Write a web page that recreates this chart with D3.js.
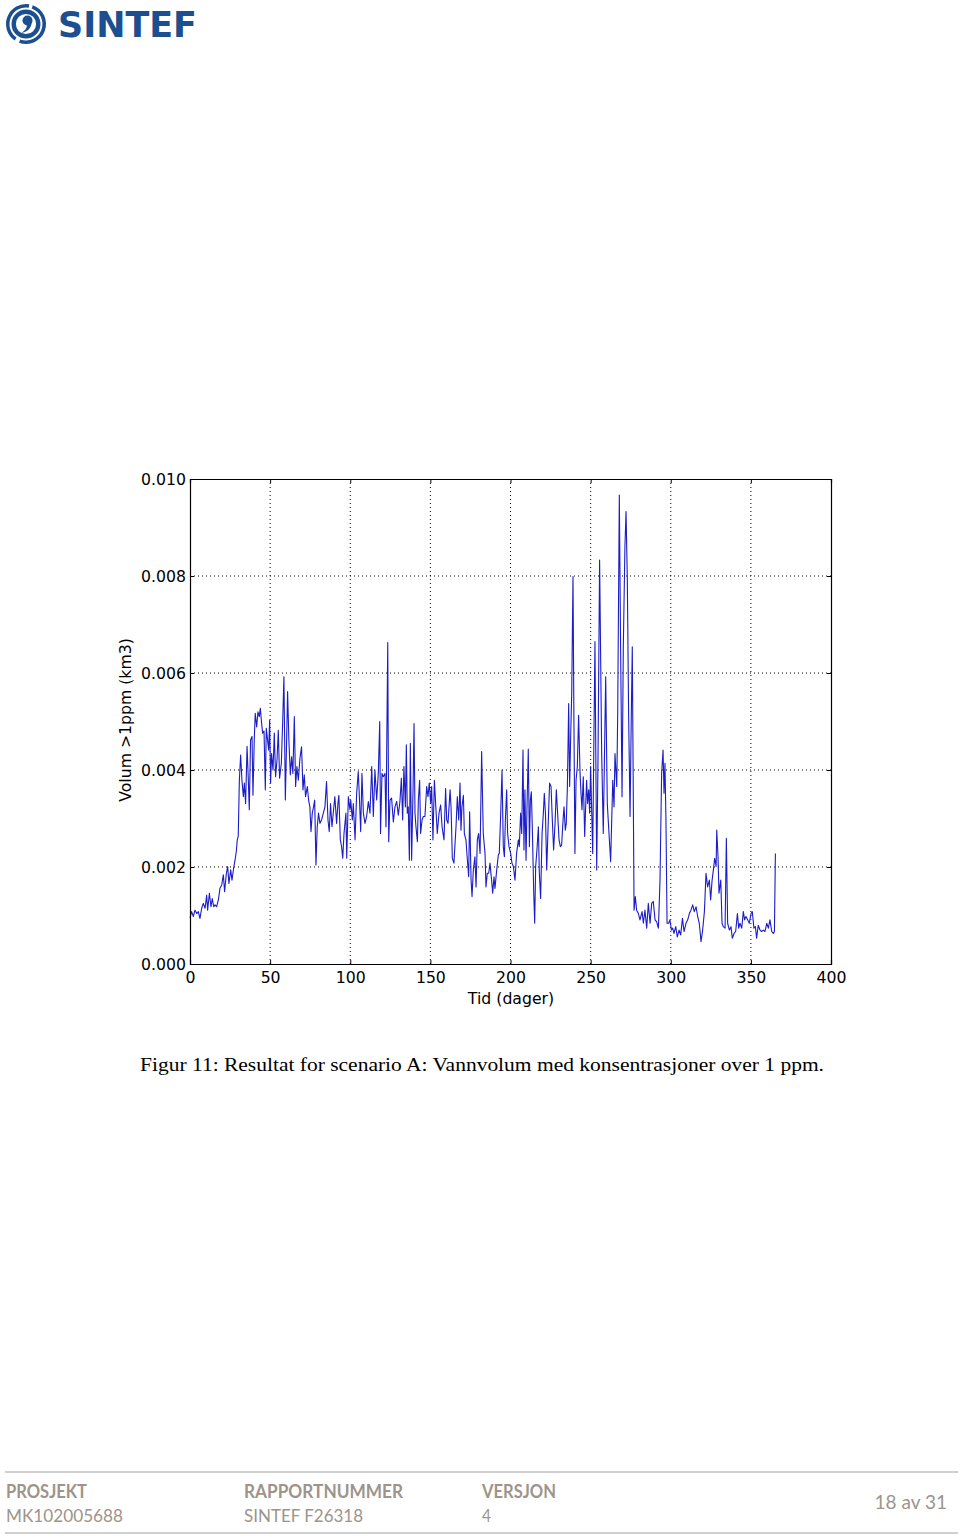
<!DOCTYPE html>
<html>
<head>
<meta charset="utf-8">
<script src="https://cdn.jsdelivr.net/npm/d3@7"></script>
<style>
  body { margin: 0; background: #fff; }
  svg { display: block; }
</style>
</head>
<body>
<svg id="side" width="960" height="1537"></svg>
<script>
// tid i dager
const dager = [
  0, 1.0, 2.1, 3.1, 4.2, 5.2, 6.2, 7.3, 8.3, 9.4, 10.4, 11.0, 12.1, 13.1, 13.9, 14.8, 15.6, 16.6, 17.7, 18.7,
  19.8, 20.8, 21.6, 22.7, 23.5, 24.3, 25.4, 26.2, 27.2, 28.1, 28.9, 29.5, 30.1, 30.8, 31.6, 32.4, 33.3, 33.9, 34.7, 35.6,
  36.4, 37.0, 37.8, 38.7, 39.3, 40.1, 40.7, 41.6, 42.4, 43.2, 43.9, 44.5, 45.3, 46.2, 47.0, 47.6, 48.4, 49.1, 49.7, 50.3,
  50.9, 51.8, 52.6, 53.4, 54.3, 55.1, 55.9, 57.0, 57.8, 58.6, 59.5, 60.3, 60.9, 61.7, 62.6, 63.4, 64.2, 65.1, 65.9, 66.7,
  67.6, 68.6, 69.6, 70.5, 71.3, 72.1, 73.2, 74.0, 74.8, 75.5, 76.3, 77.1, 77.8, 78.6, 79.4, 80.2, 81.1, 82.1, 83.2, 84.2,
  85.2, 86.1, 86.9, 87.7, 88.6, 89.6, 90.4, 91.5, 92.3, 92.9, 93.8, 94.6, 95.3, 96.1, 97.3, 97.8, 98.8, 99.8, 100.3, 101.3,
  101.9, 103.0, 104.0, 105.0, 105.7, 106.5, 107.3, 108.2, 109.2, 110.2, 111.3, 112.3, 113.4, 114.4, 115.4, 116.5, 117.5, 118.4, 118.9, 119.8,
  120.6, 121.7, 122.3, 123.4, 124.0, 124.8, 125.8, 126.9, 127.9, 129.0, 130.0, 131.0, 131.9, 132.7, 133.5, 134.4, 135.0, 135.6, 136.2, 136.9,
  137.5, 138.3, 139.2, 139.8, 140.4, 141.0, 141.9, 142.5, 143.3, 143.9, 144.8, 145.6, 146.6, 147.7, 148.5, 149.3, 150.2, 150.8, 151.6, 152.5,
  153.5, 154.3, 155.4, 156.4, 157.3, 158.5, 159.5, 160.2, 161.0, 162.3, 162.9, 163.7, 164.7, 165.4, 166.0, 166.8, 167.7, 168.5, 169.1, 169.7,
  170.6, 171.2, 172.2, 173.1, 173.9, 174.5, 175.4, 176.0, 176.8, 177.8, 178.5, 179.3, 180.1, 181.0, 182.0, 183.0, 184.1, 184.7, 185.5, 186.4,
  187.2, 188.2, 188.9, 189.7, 190.3, 191.4, 192.4, 193.0, 193.9, 194.7, 195.5, 196.2, 196.8, 197.6, 198.2, 199.1, 200.1, 200.9, 201.8, 202.8,
  203.8, 204.9, 205.5, 206.3, 207.0, 207.8, 208.4, 209.0, 209.7, 210.3, 211.1, 211.8, 212.4, 213.0, 213.6, 214.5, 215.1, 215.7, 216.5, 217.4,
  218.0, 218.8, 219.7, 220.5, 221.1, 221.8, 222.6, 223.6, 224.4, 225.3, 226.1, 226.9, 227.8, 228.6, 229.4, 230.3, 231.1, 231.9, 232.8, 233.4,
  234.2, 234.8, 235.5, 236.3, 236.9, 237.6, 238.2, 239.0, 239.6, 240.2, 240.9, 241.7, 242.5, 243.4, 244.0, 244.6, 245.4, 246.3, 246.9, 247.5,
  248.1, 248.8, 249.4, 250.0, 250.7, 251.3, 251.9, 252.7, 253.4, 253.8, 254.6, 255.6, 256.9, 257.9, 259.4, 260.4, 261.1, 262.5, 263.8, 264.6,
  265.2, 266.3, 266.9, 267.9, 268.7, 269.6, 270.4, 271.4, 272.1, 272.9, 273.7, 274.6, 275.4, 276.0, 276.7, 277.1, 277.9, 278.7, 279.8, 280.8,
  282.1, 282.9, 283.9, 285.0, 286.0, 287.1, 288.1, 289.1, 290.2, 291.2, 292.3, 293.3, 294.3, 295.2, 295.8, 296.4, 297.0, 297.7, 298.7, 299.5,
  300.4, 301.2, 302.0, 303.1, 304.1, 305.2, 306.2, 307.3, 308.3, 309.5, 310.6, 311.6, 312.6, 313.7, 314.7, 315.8, 316.8, 317.8, 318.9, 319.9,
  321.0, 322.0, 323.0, 324.1, 324.9, 325.8, 326.6, 327.4, 328.3, 328.7, 329.5, 330.1, 331.2, 332.0, 332.8, 333.9, 334.7, 335.5, 336.6, 337.6,
  338.4, 339.5, 340.5, 341.6, 342.4, 343.2, 344.3, 345.3, 346.1, 346.9, 348.0, 349.0, 350.1, 350.9, 351.9, 352.8, 353.6, 354.6, 355.7, 356.7,
  357.8, 358.8, 359.9, 360.9, 361.9, 363.0, 364.0, 364.7, 365.3
];

// volum med konsentrasjon over 1 ppm, i 0.001 km3
const volum = [
  0.95, 1.08, 0.98, 1.11, 1.04, 1.08, 0.94, 1.15, 1.25, 1.15, 1.42, 1.11, 1.46, 1.18, 1.35, 1.18, 1.22, 1.18, 1.32, 1.56,
  1.63, 1.84, 1.49, 1.87, 2.01, 1.66, 1.94, 1.73, 1.97, 2.14, 2.32, 2.56, 2.63, 3.79, 4.31, 3.79, 3.45, 3.73, 3.31, 4.49,
  3.79, 3.18, 4.62, 4.69, 3.48, 4.62, 5.17, 4.89, 5.20, 5.10, 5.27, 5.03, 4.76, 4.80, 3.59, 4.86, 4.62, 4.41, 5.03, 3.73,
  4.34, 4.00, 4.76, 3.86, 4.21, 4.82, 3.83, 4.14, 4.96, 5.92, 3.38, 4.62, 5.62, 4.62, 3.90, 4.27, 3.93, 5.10, 3.66, 4.07,
  3.79, 4.24, 4.48, 3.59, 3.90, 3.45, 3.66, 3.38, 3.24, 2.73, 3.11, 3.24, 3.38, 2.04, 2.83, 3.11, 2.90, 2.97, 3.11, 3.24,
  3.76, 2.97, 2.73, 3.31, 2.83, 3.18, 3.45, 2.90, 3.31, 3.48, 2.56, 2.42, 2.18, 2.69, 3.11, 2.18, 3.45, 3.18, 3.38, 2.97,
  3.31, 2.56, 3.52, 3.97, 3.45, 2.73, 3.93, 3.11, 2.90, 3.04, 3.35, 3.11, 4.07, 3.04, 4.00, 3.38, 3.93, 5.00, 2.69, 3.93,
  3.86, 3.93, 2.83, 6.63, 2.52, 3.38, 3.42, 2.93, 3.24, 3.35, 3.07, 3.35, 3.83, 2.97, 4.07, 3.24, 4.52, 3.11, 3.24, 2.14,
  4.55, 2.14, 3.62, 4.96, 3.11, 2.83, 2.52, 3.38, 3.79, 2.69, 2.97, 3.04, 3.04, 3.66, 3.45, 3.73, 3.31, 3.66, 2.56, 3.79,
  3.18, 2.69, 3.11, 3.28, 2.83, 2.56, 3.62, 2.97, 2.90, 3.59, 3.24, 2.18, 2.08, 2.49, 2.83, 3.45, 2.97, 3.73, 2.76, 3.24,
  3.48, 2.69, 2.56, 2.14, 1.80, 3.14, 1.73, 1.39, 1.94, 2.21, 1.59, 2.56, 2.69, 2.28, 4.38, 2.69, 2.28, 1.59, 1.87, 1.87,
  2.08, 1.73, 1.46, 1.80, 1.56, 1.94, 2.25, 2.28, 3.11, 4.00, 2.42, 2.21, 2.97, 3.59, 2.69, 2.42, 2.28, 2.08, 2.01, 1.73,
  2.28, 2.56, 2.42, 3.11, 2.69, 4.41, 2.35, 3.59, 2.14, 3.24, 4.43, 2.42, 3.38, 3.55, 2.83, 1.46, 0.84, 2.01, 2.35, 2.83,
  1.87, 1.35, 2.69, 3.11, 3.52, 3.11, 1.94, 2.97, 3.73, 3.66, 2.97, 2.35, 2.90, 3.59, 3.11, 2.56, 2.42, 2.45, 2.97, 3.24,
  2.76, 2.90, 3.66, 5.37, 3.66, 4.76, 5.58, 7.99, 4.89, 2.28, 3.79, 4.07, 5.13, 3.93, 3.52, 3.18, 3.86, 2.63, 3.24, 3.79,
  3.31, 3.59, 3.11, 4.07, 3.11, 2.28, 4.21, 6.65, 3.59, 1.94, 4.21, 8.33, 4.34, 2.69, 5.92, 3.31, 2.90, 2.11, 3.79, 3.24,
  4.34, 3.66, 5.17, 9.67, 6.54, 3.45, 6.54, 8.60, 9.33, 7.92, 5.17, 3.04, 5.17, 6.54, 3.11, 1.11, 1.39, 1.11, 1.04, 0.91,
  1.08, 0.84, 1.11, 0.74, 1.25, 0.84, 1.25, 1.29, 0.91, 0.87, 0.74, 1.73, 3.93, 4.41, 3.52, 4.14, 2.97, 0.84, 0.84, 0.91,
  0.70, 0.74, 0.63, 0.77, 0.56, 0.70, 0.60, 0.94, 0.67, 0.84, 0.91, 1.04, 1.11, 1.22, 1.08, 1.18, 0.98, 0.84, 0.46, 0.70,
  1.08, 1.87, 1.59, 1.73, 1.32, 1.73, 1.94, 2.18, 2.01, 2.76, 2.21, 1.46, 1.73, 0.84, 0.77, 0.74, 2.59, 0.84, 0.70, 0.77,
  0.53, 0.63, 0.67, 1.04, 0.74, 0.84, 0.74, 1.08, 0.91, 0.98, 0.91, 0.84, 1.04, 1.08, 0.74, 0.77, 0.53, 0.80, 0.70, 0.67,
  0.70, 0.67, 0.84, 0.74, 0.91, 0.67, 0.63, 0.67, 2.28
];

const xTicks = [0, 50, 100, 150, 200, 250, 300, 350, 400];
const yTicks = [0, 0.002, 0.004, 0.006, 0.008, 0.010];

const svg = d3.select("#side");
const navy = "#1c4f8f";
const footGrey = "#9d948b";

// --- logo ---
const logo = svg.append("g");
const ring = d3.arc();
// ytre ring i to buer
logo.append("path").attr("transform", "translate(26,24)")
  .attr("d", ring({ innerRadius: 16.5, outerRadius: 20, startAngle: 0.35, endAngle: 3.5 }))
  .attr("fill", navy);
logo.append("path").attr("transform", "translate(26,24)")
  .attr("d", ring({ innerRadius: 16.5, outerRadius: 20, startAngle: 3.75, endAngle: 6.45 }))
  .attr("fill", navy);
logo.append("circle").attr("cx", 26).attr("cy", 24).attr("r", 12.3)
  .attr("fill", "none").attr("stroke", navy).attr("stroke-width", 4.4);
logo.append("circle").attr("cx", 27.5).attr("cy", 20.5).attr("r", 5)
  .attr("fill", navy);
logo.append("path")
  .attr("d", "M31.5,22 C32,28 27,32 21,33 C26,30 27.5,27 26.5,24 Z")
  .attr("fill", navy);
logo.append("text")
  .attr("x", 58).attr("y", 37)
  .attr("font-family", "DejaVu Sans").attr("font-weight", "bold")
  .attr("font-size", 36).attr("fill", navy)
  .attr("textLength", 139).attr("lengthAdjust", "spacingAndGlyphs")
  .text("SINTEF");

// --- plott ---
const x = d3.scaleLinear().domain([0, 400]).range([190, 831]);
const y = d3.scaleLinear().domain([0, 0.010]).range([964, 479]);
const font = "DejaVu Sans";
const fs = 15.7;

const grid = svg.append("g");
grid.selectAll("line.gx").data(xTicks.slice(1, -1)).enter().append("line")
  .attr("x1", d => x(d)).attr("x2", d => x(d))
  .attr("y1", y(0)).attr("y2", y(0.010))
  .attr("stroke", "#000").attr("stroke-width", 1).attr("stroke-dasharray", "1,3");
grid.selectAll("line.gy").data(yTicks.slice(1, -1)).enter().append("line")
  .attr("x1", x(0)).attr("x2", x(400))
  .attr("y1", d => y(d)).attr("y2", d => y(d))
  .attr("stroke", "#000").attr("stroke-width", 1).attr("stroke-dasharray", "1,3");

const line = d3.line()
  .x((d, i) => x(dager[i]))
  .y(d => y(d * 0.001));

svg.append("path")
  .datum(volum)
  .attr("d", line)
  .attr("fill", "none")
  .attr("stroke", "#1c1cc8")
  .attr("stroke-width", 1.1)
  .attr("stroke-linejoin", "round");

// akser med innovervendte ticks
const axB = d3.axisBottom(x).tickValues(xTicks).tickSize(-4).tickPadding(8).tickFormat(d3.format("d"));
const axT = d3.axisTop(x).tickValues(xTicks).tickSize(-4).tickFormat("");
const axL = d3.axisLeft(y).tickValues(yTicks).tickSize(-4).tickPadding(4).tickFormat(d3.format(".3f"));
const axR = d3.axisRight(y).tickValues(yTicks).tickSize(-4).tickFormat("");

function style(g) {
  g.selectAll("path").attr("stroke", "#000").attr("stroke-width", 1.2);
  g.selectAll("line").attr("stroke", "#000").attr("stroke-width", 1);
  g.selectAll("text").attr("font-family", font).attr("font-size", fs).attr("fill", "#000");
}

svg.append("g").attr("transform", "translate(0,964)").call(axB).call(style);
svg.append("g").attr("transform", "translate(0,479)").call(axT).call(style);
svg.append("g").attr("transform", "translate(190,0)").call(axL).call(style);
svg.append("g").attr("transform", "translate(831,0)").call(axR).call(style);

svg.append("text")
  .attr("x", 511).attr("y", 1004)
  .attr("text-anchor", "middle")
  .attr("font-family", font).attr("font-size", fs)
  .text("Tid (dager)");

svg.append("text")
  .attr("transform", "translate(131,720) rotate(-90)")
  .attr("text-anchor", "middle")
  .attr("font-family", font).attr("font-size", fs)
  .text("Volum >1ppm (km3)");

svg.append("text")
  .attr("x", 140).attr("y", 1071)
  .attr("font-family", "Liberation Serif").attr("font-size", 19.5)
  .attr("textLength", 684).attr("lengthAdjust", "spacingAndGlyphs")
  .text("Figur 11: Resultat for scenario A: Vannvolum med konsentrasjoner over 1 ppm.");

// --- bunntekst ---
svg.append("line").attr("x1", 5).attr("x2", 958).attr("y1", 1472).attr("y2", 1472)
  .attr("stroke", "#d0d0d0").attr("stroke-width", 2);
svg.append("line").attr("x1", 5).attr("x2", 958).attr("y1", 1533).attr("y2", 1533)
  .attr("stroke", "#d0d0d0").attr("stroke-width", 2);

const fotTitler = ["PROSJEKT", "RAPPORTNUMMER", "VERSJON"];
const fotVerdier = ["MK102005688", "SINTEF F26318", "4"];
const fotX = [6, 244, 482];
const titW = [81, 159, 74];
const verW = [117, 119, 9];

fotTitler.forEach((t, i) => {
  svg.append("text").attr("x", fotX[i]).attr("y", 1498)
    .attr("font-family", "Lato").attr("font-weight", "bold").attr("font-size", 18)
    .attr("fill", footGrey)
    .attr("textLength", titW[i]).attr("lengthAdjust", "spacingAndGlyphs")
    .text(t);
  svg.append("text").attr("x", fotX[i]).attr("y", 1522)
    .attr("font-family", "Lato").attr("font-size", 18)
    .attr("fill", footGrey)
    .attr("textLength", verW[i]).attr("lengthAdjust", "spacingAndGlyphs")
    .text(fotVerdier[i]);
});

svg.append("text").attr("x", 947).attr("y", 1509)
  .attr("text-anchor", "end")
  .attr("font-family", "Lato").attr("font-size", 19)
  .attr("fill", footGrey)
  .text("18 av 31");
</script>
</body>
</html>
